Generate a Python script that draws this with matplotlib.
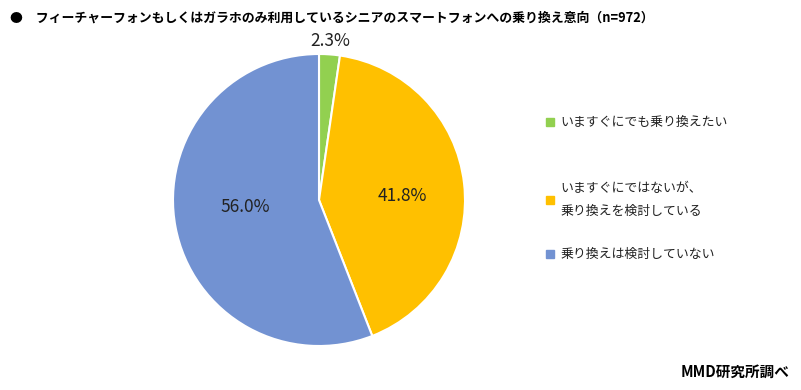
import matplotlib.pyplot as plt
import numpy as np
from matplotlib.patches import Rectangle

plt.rcParams['font.family'] = ['Noto Sans CJK JP', 'DejaVu Sans']

title = "●　フィーチャーフォンもしくはガラホのみ利用しているシニアのスマートフォンへの乗り換え意向（n=972）"
labels = ["いますぐにでも乗り換えたい", "いますぐにではないが、\n乗り換えを検討している", "乗り換えは検討していない"]
values = [2.3, 41.8, 56.0]
colors = ["#92D050", "#FFC000", "#7292D2"]

# label placement: distance from centre (in radii) and angle tweak (deg)
label_dist = [1.09, 0.57, 0.51]
label_shift = [0, -4, -5]

fig = plt.figure(figsize=(8.01, 3.90), dpi=100)
W, H = 801, 390
cx, cy, r = 319, 200, 146
ax = fig.add_axes([(cx - r) / W, (H - cy - r) / H, 2 * r / W, 2 * r / H])

wedges, _ = ax.pie(values, colors=colors, startangle=90, counterclock=False,
                   wedgeprops=dict(edgecolor="white", linewidth=1.5))
ax.set_xlim(-1, 1)
ax.set_ylim(-1, 1)
ax.set_aspect("equal")
ax.axis("off")

for w, v, d, s in zip(wedges, values, label_dist, label_shift):
    ang = np.deg2rad((w.theta1 + w.theta2) / 2 + s)
    ax.text(d * np.cos(ang), d * np.sin(ang), f"{v:.1f}%", ha="center", va="center",
            fontsize=12.5, color="#222222", clip_on=False)

fig.text(10 / W, 1 - 18 / H, title, fontsize=9.3, fontweight="bold", va="center", ha="left")

# legend
leg_y = [122, 200, 254]
for lab, c, y in zip(labels, colors, leg_y):
    fig.patches.append(Rectangle((546 / W, (H - y - 4) / H), 8 / W, 8 / H,
                                 transform=fig.transFigure, color=c))
    fig.text(560 / W, 1 - y / H, lab, fontsize=9.3, va="center", ha="left",
             color="#222222", linespacing=2.0)

fig.text(790 / W, 1 - 372 / H, "MMD研究所調べ", fontsize=10.5, fontweight="bold",
         ha="right", va="center")

fig.savefig("out.png", dpi=100)
